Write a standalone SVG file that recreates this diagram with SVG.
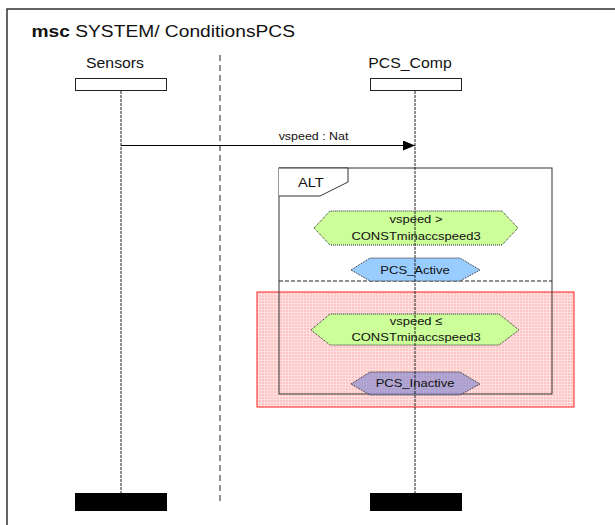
<svg xmlns="http://www.w3.org/2000/svg" width="615" height="525" viewBox="0 0 615 525">
  <style>
    text { font-family: "Liberation Sans", Arial, sans-serif; fill: #111; }
    .lbl { font-size: 14px; text-anchor: middle; }
    .small { font-size: 11.5px; text-anchor: middle; }
    .head { fill: #fff; stroke: #222; stroke-width: 1; }
    .end { fill: #000; }
    .life { stroke: #222; stroke-width: 1; stroke-dasharray: 3 1; fill: none; }
    .hex { stroke: #222; stroke-width: 1; stroke-dasharray: 1 1; }
  </style>
  <defs>
    <pattern id="grid" width="3" height="3" patternUnits="userSpaceOnUse">
      <rect width="3" height="3" fill="#ffc4c4"/>
      <rect width="3" height="1" fill="#ffe0e0"/>
      <rect width="1" height="3" fill="#ffe0e0"/>
    </pattern>
    <marker id="arrow" viewBox="0 0 12 10" refX="12" refY="5" markerWidth="12" markerHeight="10" markerUnits="userSpaceOnUse" orient="auto">
      <path d="M0,0 L12,5 L0,10 Z" fill="#000"/>
    </marker>
  </defs>

  <rect width="615" height="525" fill="#fff"/>

  <!-- diagram frame -->
  <rect x="7" y="9" width="620" height="530" fill="none" stroke="#333" stroke-width="1.5"/>
  <text transform="translate(31.5,37) scale(1.13,1)" style="font-size:17px"><tspan font-weight="bold">msc</tspan> SYSTEM/ ConditionsPCS</text>

  <!-- instance separator -->
  <line x1="220" y1="55" x2="220" y2="505" stroke="#222" stroke-width="1" stroke-dasharray="6 4"/>

  <!-- highlighted region -->
  <rect id="highlight" x="257" y="292" width="317" height="115" fill="url(#grid)" stroke="#ff2020" stroke-width="1"/>

  <!-- ALT operator -->
  <g id="alt">
    <rect x="279" y="168" width="273" height="226" fill="none" stroke="#333" stroke-width="1"/>
    <path d="M279,168 H348 V182 L320,196 H279" fill="#fff" stroke="#333" stroke-width="1"/>
    <text transform="translate(298,187) scale(1.13,1)" style="font-size:13px">ALT</text>
    <line x1="279" y1="281" x2="552" y2="281" stroke="#222" stroke-width="1" stroke-dasharray="4 2"/>
  </g>

  <!-- instances -->
  <g id="sensors">
    <text class="lbl" transform="translate(115,68) scale(1.13,1)">Sensors</text>
    <rect class="head" x="75.5" y="78.5" width="91" height="12"/>
    <line class="life" x1="121" y1="91" x2="121" y2="493"/>
    <rect class="end" x="75" y="493" width="92" height="18"/>
  </g>

  <g id="pcs_comp">
    <text class="lbl" transform="translate(410,68) scale(1.13,1)">PCS_Comp</text>
    <rect class="head" x="370.5" y="78.5" width="91" height="12"/>
    <rect class="end" x="370" y="493" width="92" height="18"/>
  </g>

  <!-- conditions and states -->
  <g id="cond_gt">
    <polygon class="hex" points="314,228 330,211 502,211 518,228 502,245 330,245" fill="#ccff99"/>
    <text class="small" transform="translate(416,223) scale(1.13,1)">vspeed &gt;</text>
    <text class="small" transform="translate(416,240) scale(1.13,1)">CONSTminaccspeed3</text>
  </g>

  <g id="pcs_active">
    <polygon class="hex" points="351,270 370,258 460,258 480,270 460,281 370,281" fill="#99ccff"/>
    <text class="small" transform="translate(415,274) scale(1.13,1)">PCS_Active</text>
  </g>

  <g id="cond_le">
    <polygon class="hex" points="311,330 330,314 499,314 519,330 499,345 330,345" fill="#ccff99"/>
    <text class="small" transform="translate(416,325) scale(1.13,1)">vspeed ≤</text>
    <text class="small" transform="translate(416,341) scale(1.13,1)">CONSTminaccspeed3</text>
  </g>

  <g id="pcs_inactive">
    <polygon class="hex" points="351,384 370,372 460,372 480,384 460,395 370,395" fill="#8f8fd0" fill-opacity="0.7"/>
    <text class="small" transform="translate(415,387) scale(1.13,1)">PCS_Inactive</text>
  </g>

  <!-- connectors -->
  <g id="connectors">
    <line class="life" x1="415" y1="91" x2="415" y2="493"/>
    <line x1="121" y1="145.5" x2="415" y2="145.5" stroke="#000" stroke-width="1" marker-end="url(#arrow)"/>
    <text class="small" transform="translate(313.5,140) scale(1.13,1)" style="font-size:11px">vspeed : Nat</text>
  </g>
</svg>
